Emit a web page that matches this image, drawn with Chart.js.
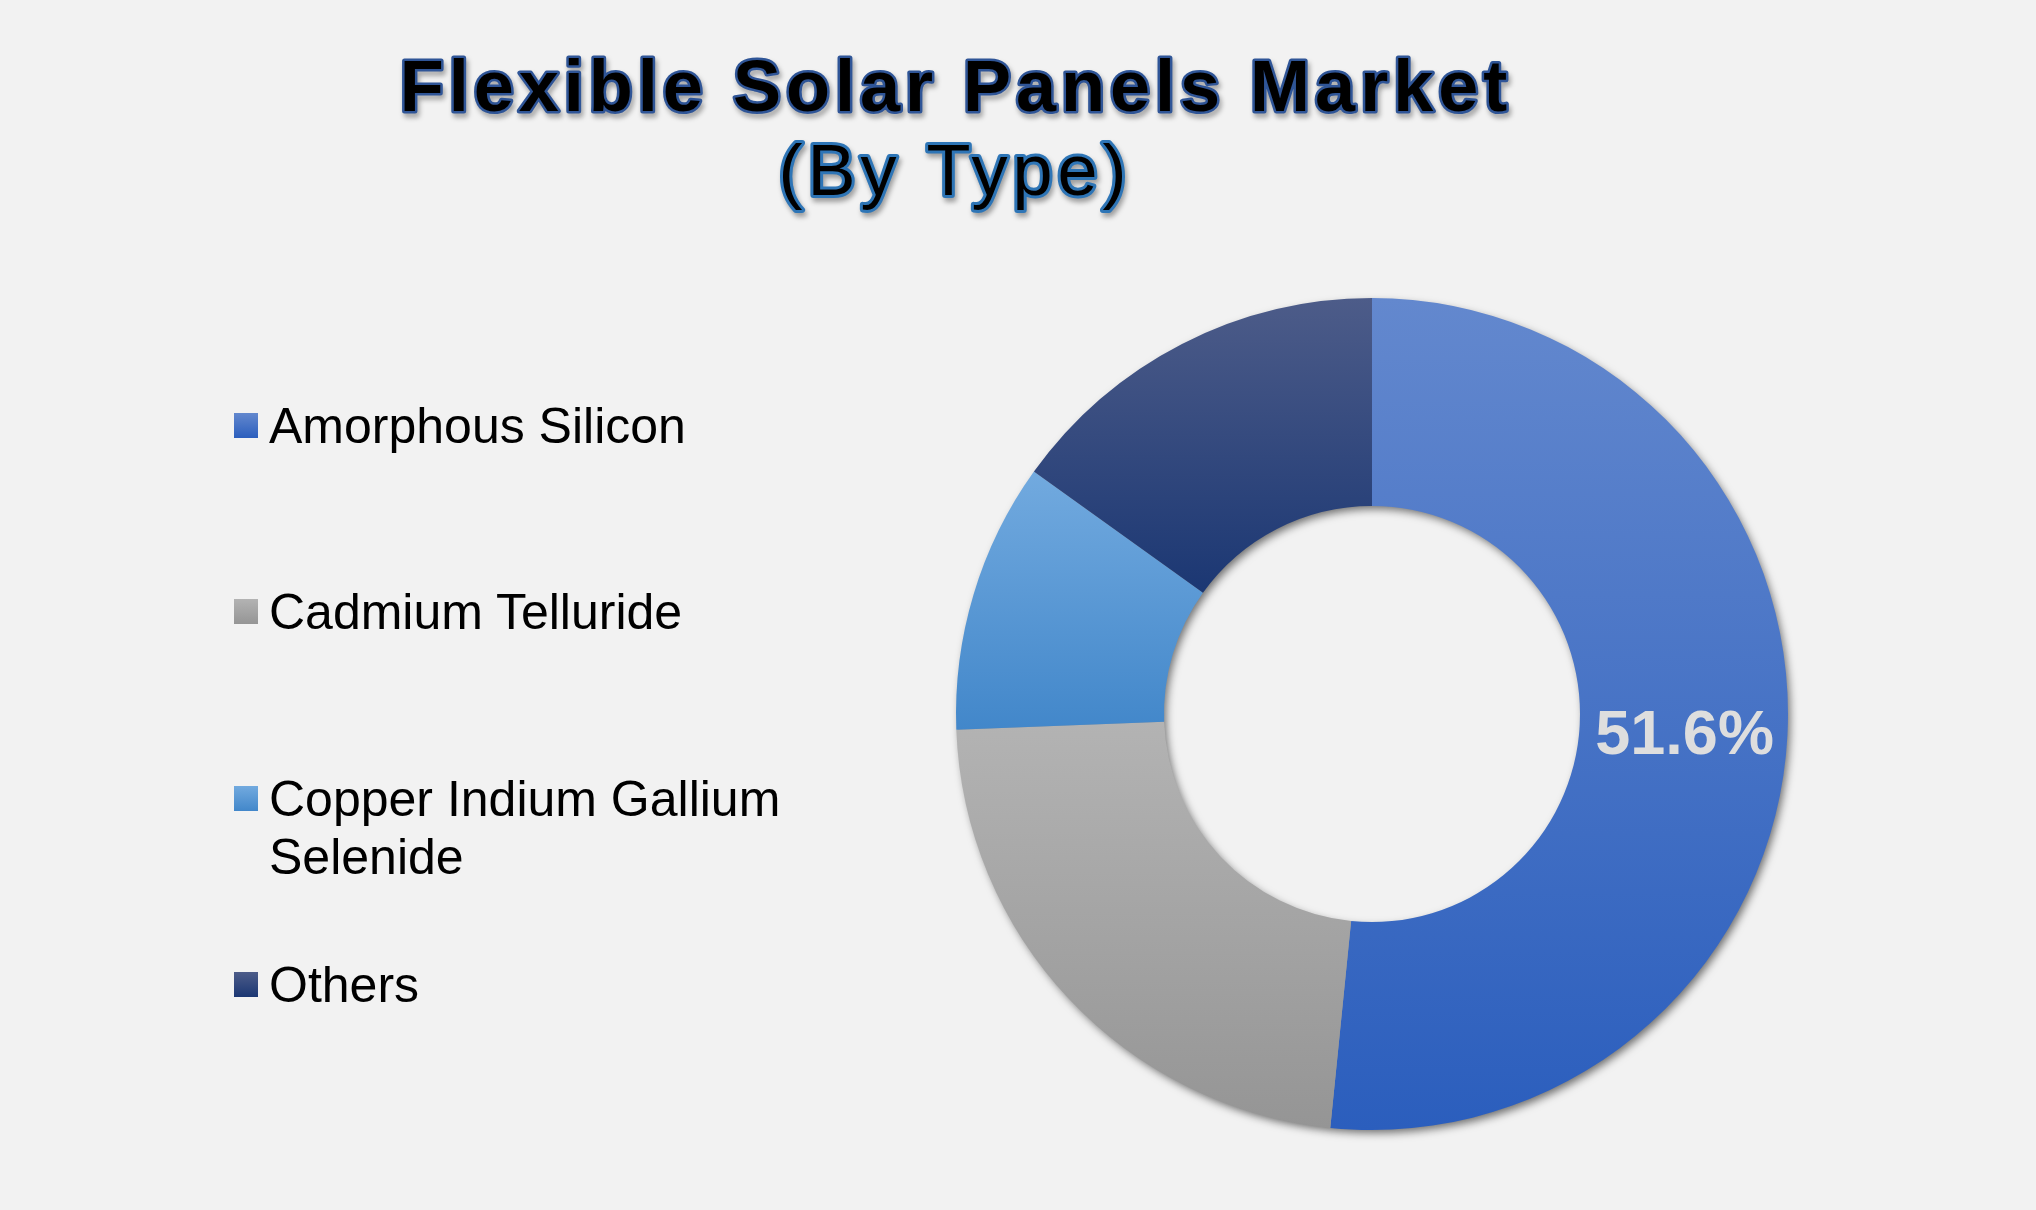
<!DOCTYPE html>
<html>
<head>
<meta charset="utf-8">
<title>Flexible Solar Panels Market (By Type)</title>
<script src="https://cdn.jsdelivr.net/npm/chart.js@4.4.0/dist/chart.umd.min.js"></script>
<style>
  html, body { margin: 0; padding: 0; background: #f2f2f2; }
  #wrap { position: relative; width: 2036px; height: 1210px; overflow: hidden; }
  #chart { position: absolute; left: 0; top: 0; }
  #legend {
    position: absolute; left: 234px; top: 0;
    font-family: "Liberation Sans", Arial, sans-serif; font-size: 50px; color: #000;
  }
  .item { position: absolute; left: 0; display: flex; align-items: flex-start; width: 590px; }
  .box { width: 24px; height: 25px; flex: none; margin: 16px 11px 0 0; }
  .txt { line-height: 58px; width: 540px; }
</style>
</head>
<body>
<div id="wrap">
  <canvas id="chart" width="2036" height="1210"></canvas>
  <div id="legend"></div>
</div>
<script>
// data
const titleLines = ["Flexible Solar Panels Market", "(By Type)"];
const categories = ["Amorphous Silicon", "Cadmium Telluride", "Copper Indium Gallium Selenide", "Others"];
const shares = [51.6, 22.8, 10.5, 15.1];
const shownLabels = ["51.6%", "", "", ""];

// slice colours, top and bottom of each vertical gradient
const topColors = ["#6388ce", "#b3b3b3", "#72aadf", "#4d5c89"];
const bottomColors = ["#2b5ebd", "#959595", "#4287ca", "#1b3773"];

const CUTOUT = 0.5;

// vertical gradient spanning the slice's own height
function sliceGradient(c) {
  const chart = c.chart;
  const area = chart.chartArea;
  const i = c.dataIndex;
  if (!area || i === undefined) return topColors[i] || "#999";
  const total = shares.reduce((a, b) => a + b, 0);
  let before = 0;
  for (let k = 0; k < i; k++) before += shares[k];
  const a0 = -Math.PI / 2 + (before / total) * Math.PI * 2;
  const a1 = a0 + (shares[i] / total) * Math.PI * 2;
  const cy = (area.top + area.bottom) / 2;
  const r = Math.min(area.right - area.left, area.bottom - area.top) / 2;
  let top = Infinity, bot = -Infinity;
  for (let k = 0; k <= 90; k++) {
    const a = a0 + (a1 - a0) * k / 90;
    [r * CUTOUT, r].forEach((rr) => {
      const yy = cy + rr * Math.sin(a);
      top = Math.min(top, yy);
      bot = Math.max(bot, yy);
    });
  }
  const g = chart.ctx.createLinearGradient(0, top, 0, bot);
  g.addColorStop(0, topColors[i]);
  g.addColorStop(1, bottomColors[i]);
  return g;
}

const decor = {
  id: "decor",
  beforeDatasetsDraw(chart) {
    // soft shadow under the whole ring
    const arc = chart.getDatasetMeta(0).data[0];
    if (!arc) return;
    const { x, y, innerRadius, outerRadius } = arc.getProps(["x", "y", "innerRadius", "outerRadius"], true);
    const ctx = chart.ctx;
    ctx.save();
    ctx.shadowColor = "rgba(0,0,0,0.55)";
    ctx.shadowBlur = 9;
    ctx.shadowOffsetX = 3;
    ctx.shadowOffsetY = 4;
    ctx.beginPath();
    ctx.arc(x, y, outerRadius - 1, 0, Math.PI * 2);
    ctx.arc(x, y, innerRadius + 1, 0, Math.PI * 2, true);
    ctx.fillStyle = "#999";
    ctx.fill();
    ctx.restore();
  },
  afterDatasetsDraw(chart) {
    const ctx = chart.ctx;
    const meta = chart.getDatasetMeta(0);
    ctx.save();
    ctx.font = 'bold 63px "Liberation Sans", Arial, sans-serif';
    ctx.fillStyle = "#dedede";
    ctx.textAlign = "center";
    ctx.textBaseline = "middle";
    meta.data.forEach((arc, i) => {
      if (!shownLabels[i]) return;
      const p = arc.getCenterPoint(true);
      ctx.fillText(shownLabels[i], p.x + 1, p.y + 7);
    });
    ctx.restore();
  },
  afterDraw(chart) {
    const ctx = chart.ctx;
    const lines = [
      { text: titleLines[0], font: 'bold 72px "Liberation Sans", Arial, sans-serif', y: 111, x: 956, spacing: "5px", stroke: "#2f5597", lw: 5 },
      { text: titleLines[1], font: '72px "Liberation Sans", Arial, sans-serif', y: 195, x: 955, spacing: "5px", stroke: "#2e75b6", lw: 6 },
    ];
    lines.forEach((l) => {
      ctx.save();
      ctx.font = l.font;
      ctx.textAlign = "center";
      ctx.textBaseline = "alphabetic";
      ctx.letterSpacing = l.spacing;
      ctx.lineJoin = "round";
      ctx.shadowColor = "rgba(0,0,0,0.35)";
      ctx.shadowBlur = 5;
      ctx.shadowOffsetX = 2;
      ctx.shadowOffsetY = 4;
      ctx.lineWidth = l.lw;
      ctx.strokeStyle = l.stroke;
      ctx.strokeText(l.text, l.x, l.y);
      ctx.shadowColor = "transparent";
      ctx.fillStyle = "#000";
      ctx.fillText(l.text, l.x, l.y);
      ctx.restore();
    });
  },
};

new Chart(document.getElementById("chart").getContext("2d"), {
  type: "doughnut",
  data: {
    labels: categories,
    datasets: [
      {
        data: shares,
        backgroundColor: sliceGradient,
        borderWidth: 0,
        hoverOffset: 0,
      },
    ],
  },
  options: {
    responsive: false,
    animation: false,
    devicePixelRatio: 1,
    events: [],
    cutout: CUTOUT * 100 + "%",
    layout: { padding: { left: 956, right: 248, top: 298, bottom: 80 } },
    plugins: {
      legend: { display: false },
      tooltip: { enabled: false },
      title: { display: false },
    },
  },
  plugins: [decor],
});

// legend on the left, one slot per category
const legend = document.getElementById("legend");
categories.forEach((name, i) => {
  const item = document.createElement("div");
  item.className = "item";
  item.style.top = (397 + i * 186.3) + "px";
  const box = document.createElement("div");
  box.className = "box";
  box.style.background = `linear-gradient(${topColors[i]}, ${bottomColors[i]})`;
  const txt = document.createElement("div");
  txt.className = "txt";
  txt.textContent = name;
  item.appendChild(box);
  item.appendChild(txt);
  legend.appendChild(item);
});
</script>
</body>
</html>
